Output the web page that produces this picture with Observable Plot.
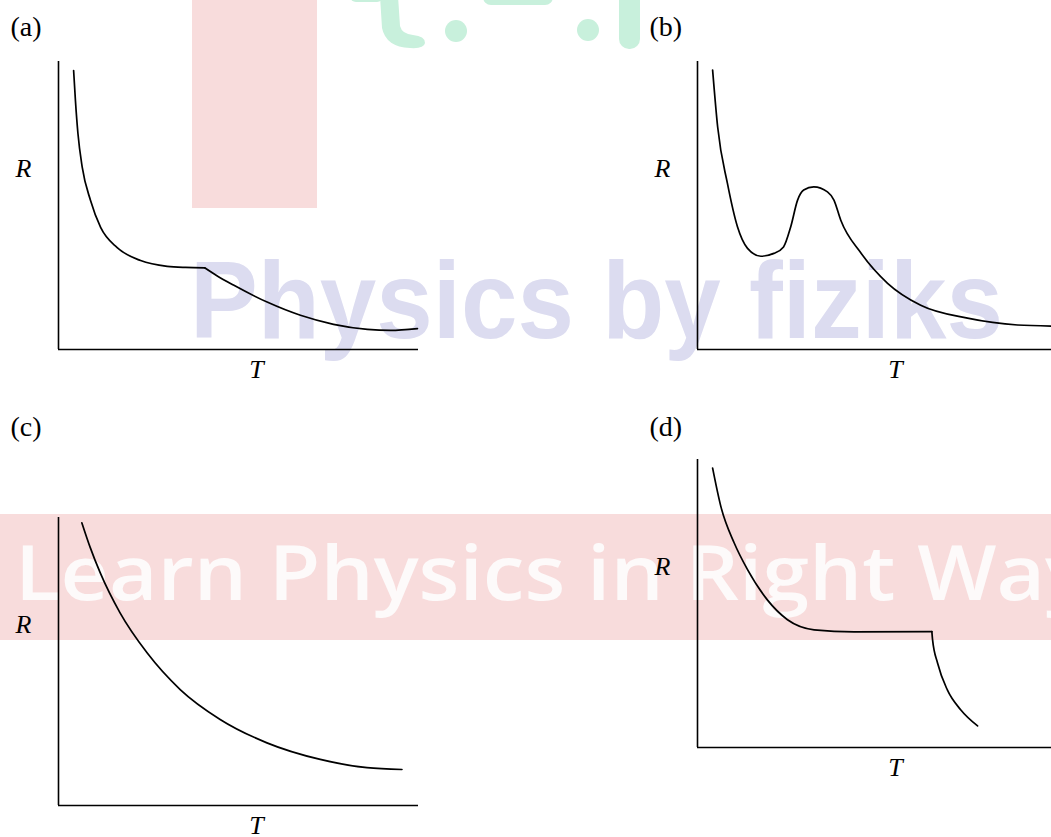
<!DOCTYPE html>
<html>
<head>
<meta charset="utf-8">
<script src="https://cdn.jsdelivr.net/npm/d3@7"></script>
<script src="https://cdn.jsdelivr.net/npm/@observablehq/plot@0.6"></script>
<style>
  html, body { margin: 0; padding: 0; background: #fff; overflow: hidden; }
  #page { position: relative; width: 1051px; height: 837px; overflow: hidden; }
  #backdrop { position: absolute; left: 0; top: 0; }
  .panel { position: absolute; }
</style>
</head>
<body>
<div id="page">
  <svg id="backdrop" width="1051" height="837">
    <rect x="192" y="0" width="125" height="208" fill="#f8dcdc"/>
    <rect x="0" y="514" width="1051" height="126" fill="#f8dcdc"/>
    <g fill="#c8f0dc">
      <path d="M380,-4 L398,-4 L400,26 Q402,34 413,35 Q425,36 425,43 Q424,49 410,48 Q386,47 382,28 Z"/>
      <circle cx="456" cy="31" r="11"/>
      <circle cx="588" cy="30" r="11"/>
      <rect x="619" y="-12" width="21" height="61" rx="10"/>
      <rect x="483" y="-12" width="70" height="17" rx="8"/>
      <rect x="350" y="-12" width="33" height="14" rx="6"/>
    </g>
    <text x="190" y="338" font-family="Liberation Sans" font-weight="700" font-size="109" fill="#dcdcf0"
          textLength="813" lengthAdjust="spacingAndGlyphs">Physics by fiziks</text>
    <text x="15" y="600" font-family="Open Sans" font-weight="600" font-size="76" fill="#fdfafa"
          textLength="1075" lengthAdjust="spacingAndGlyphs">Learn Physics in Right Way</text>
  </svg>
</div>
<script>
// Sketched resistance–temperature curves, in arbitrary units (T: 0–10, R: 0–8).

// (a) steep fall, plateau, then a kink into a second decay
const aColdT = [0.42, 0.47, 0.54, 0.66, 0.89, 1.17, 1.63, 2.28, 3.02, 3.53, 4.06];
const aColdR = [7.75, 6.92, 6.00, 5.06, 4.14, 3.39, 2.83, 2.47, 2.31, 2.28, 2.27];
const aHotT  = [4.06, 4.40, 4.86, 5.81, 6.72, 7.64, 8.58, 9.22, 9.97];
const aHotR  = [2.27, 2.05, 1.79, 1.31, 0.95, 0.70, 0.56, 0.53, 0.58];

// (b) fall to a minimum, a hump, then a long decay
const bT = [0.42, 0.56, 0.83, 1.11, 1.39, 1.76, 2.12, 2.39, 2.59, 2.78, 2.95, 3.23, 3.61, 3.79, 3.98, 4.54, 5.28, 6.20, 7.50, 8.89, 9.84];
const bR = [7.76, 6.18, 4.62, 3.41, 2.81, 2.59, 2.67, 2.85, 3.41, 4.15, 4.43, 4.52, 4.38, 4.15, 3.59, 2.68, 1.84, 1.23, 0.87, 0.68, 0.65];

// (c) smooth monotonic decay
const cT = [0.65, 0.88, 1.16, 1.71, 2.46, 3.38, 4.49, 5.79, 7.27, 8.57, 9.54];
const cR = [7.85, 7.17, 6.46, 5.35, 4.24, 3.22, 2.39, 1.74, 1.28, 1.05, 1.00];

// (d) fall to a plateau, then a sudden drop
const dColdT = [0.42, 0.65, 1.02, 1.39, 1.94, 2.50, 3.24, 4.35, 6.51];
const dColdR = [7.76, 6.69, 5.68, 4.94, 4.10, 3.55, 3.27, 3.21, 3.22];
const dHotT  = [6.51, 6.53, 6.67, 6.94, 7.31, 7.78];
const dHotR  = [3.22, 2.99, 2.34, 1.60, 1.05, 0.60];

const panelLabels = ["(a)", "(b)", "(c)", "(d)"];
const axisNames = {x: "T", y: "R"};

const serif = "Liberation Serif, Times New Roman, serif";
const toPoints = (T, R) => T.map((t, i) => ({T: t, R: R[i]}));

const panels = [
  {label: panelLabels[0], left: 0,   top: 0,   marginTop: 61,  branches: [toPoints(aColdT, aColdR), toPoints(aHotT, aHotR)]},
  {label: panelLabels[1], left: 639, top: 0,   marginTop: 61,  branches: [toPoints(bT, bR)]},
  {label: panelLabels[2], left: 0,   top: 400, marginTop: 117, branches: [toPoints(cT, cR)]},
  {label: panelLabels[3], left: 639, top: 400, marginTop: 59,  branches: [toPoints(dColdT, dColdR), toPoints(dHotT, dHotR)]}
];

const page = document.getElementById("page");

for (const p of panels) {
  const chart = Plot.plot({
    width: 440,
    height: p.marginTop + 288 + 45,
    marginLeft: 58,
    marginRight: 22,
    marginTop: p.marginTop,
    marginBottom: 45,
    x: {domain: [0, 10], axis: null},
    y: {domain: [0, 8], axis: null},
    style: {background: "transparent", overflow: "visible"},
    marks: [
      Plot.ruleX([0], {stroke: "#000", strokeWidth: 1.6}),
      Plot.ruleY([0], {stroke: "#000", strokeWidth: 1.6}),
      ...p.branches.map((pts) =>
        Plot.line(pts, {x: "T", y: "R", curve: "monotone-x", stroke: "#000", strokeWidth: 1.7})
      ),
      Plot.text([p.label], {
        frameAnchor: "top-left", dx: -48, dy: 35 - p.marginTop,
        textAnchor: "start", lineAnchor: "bottom",
        fontFamily: serif, fontSize: 28, fill: "#000"
      }),
      Plot.text([axisNames.y], {
        frameAnchor: "left", y: 4.78, dx: -43,
        textAnchor: "start", lineAnchor: "bottom",
        fontFamily: serif, fontStyle: "italic", fontSize: 26, fill: "#000"
      }),
      Plot.text([axisNames.x], {
        frameAnchor: "bottom", x: 5.5, dy: 28,
        textAnchor: "middle", lineAnchor: "bottom",
        fontFamily: serif, fontStyle: "italic", fontSize: 26, fill: "#000"
      })
    ]
  });
  chart.classList.add("panel");
  chart.style.left = p.left + "px";
  chart.style.top = p.top + "px";
  page.appendChild(chart);
}
</script>
</body>
</html>
